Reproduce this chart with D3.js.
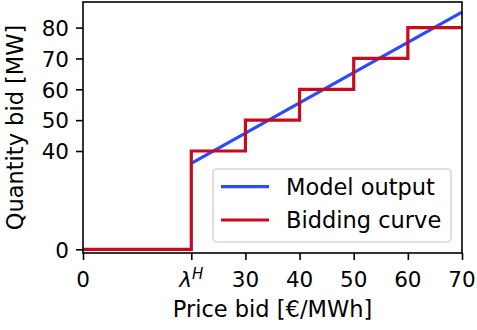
<!DOCTYPE html>
<html>
<head>
<meta charset="utf-8">
<script src="https://cdn.jsdelivr.net/npm/d3@7"></script>
<style>
  body { margin: 0; background: #fff; }
  text { font-family: "DejaVu Sans", sans-serif; fill: #000; }
</style>
</head>
<body>
<script>
// price steps of the bidding curve and the quantity bid from each step on
var bidPrice = [0, 20, 30, 40, 50, 60, 70];
var bidQuantity = [0, 40, 50, 60, 70, 80, 80];

// model output, straight line from lambda^H to the end
var modelPrice = [20, 70];
var modelQuantity = [35, 85];

var xTicks = [0, 20, 30, 40, 50, 60, 70];
var xTickLabels = ["0", "λH", "30", "40", "50", "60", "70"];
var yTicks = [0, 40, 50, 60, 70, 80];

var width = 477, height = 330;
var plotLeft = 83, plotRight = 462, plotTop = 2, plotBottom = 253;

var svg = d3.select("body").append("svg")
    .attr("width", width)
    .attr("height", height);

var x = d3.scaleLinear().domain([0, 70]).range([plotLeft, plotRight]);
// the y axis is squeezed between 0 and 40
var y = d3.scaleLinear().domain([-1.5, 0, 40, 88.3]).range([plotBottom, 249.3, 151, plotTop]);

var blue = "#2a4bff", red = "#c80a1a";

var line = d3.line()
    .x(function(d) { return x(d[0]); })
    .y(function(d) { return y(d[1]); });

svg.append("path")
    .datum(d3.zip(modelPrice, modelQuantity))
    .attr("d", line)
    .attr("fill", "none")
    .attr("stroke", blue)
    .attr("stroke-width", 3.2);

svg.append("path")
    .datum(d3.zip(bidPrice, bidQuantity))
    .attr("d", line.curve(d3.curveStepAfter))
    .attr("fill", "none")
    .attr("stroke", red)
    .attr("stroke-width", 3.2)
    .attr("stroke-linejoin", "miter");

// frame
svg.append("rect")
    .attr("x", plotLeft).attr("y", plotTop)
    .attr("width", plotRight - plotLeft).attr("height", plotBottom - plotTop)
    .attr("fill", "none")
    .attr("stroke", "#000")
    .attr("stroke-width", 1.6);

// x axis
var xAxis = svg.append("g")
    .attr("transform", "translate(0," + plotBottom + ")")
    .call(d3.axisBottom(x).tickValues(xTicks).tickSize(7).tickPadding(7).tickFormat(""));
xAxis.select(".domain").remove();
xAxis.selectAll("line").attr("stroke-width", 1.6);

var xl = svg.append("g").selectAll("text")
    .data(xTicks)
    .enter().append("text")
    .attr("x", function(d) { return x(d); })
    .attr("y", 287)
    .attr("text-anchor", "middle")
    .style("font-size", "21.5px");
xl.each(function(d, i) {
  var t = d3.select(this);
  if (xTickLabels[i] === "λH") {
    t.append("tspan").style("font-style", "italic").text("λ");
    t.append("tspan").style("font-style", "italic").style("font-size", "15px")
      .attr("dy", -8).text("H");
  } else {
    t.text(xTickLabels[i]);
  }
});

// y axis
var yAxis = svg.append("g")
    .attr("transform", "translate(" + plotLeft + ",0)")
    .call(d3.axisLeft(y).tickValues(yTicks).tickSize(7).tickPadding(7));
yAxis.select(".domain").remove();
yAxis.selectAll("line").attr("stroke-width", 1.6);
yAxis.selectAll("text")
    .attr("fill", "#000")
    .style("font-family", "DejaVu Sans, sans-serif")
    .style("font-size", "21.5px")
    .attr("dy", "0.36em");

// axis labels
svg.append("text")
    .attr("x", (plotLeft + plotRight) / 2)
    .attr("y", 317)
    .attr("text-anchor", "middle")
    .style("font-size", "22.5px")
    .text("Price bid [€/MWh]");

svg.append("text")
    .attr("transform", "translate(23," + (plotTop + plotBottom) / 2 + ") rotate(-90)")
    .attr("text-anchor", "middle")
    .style("font-size", "22.5px")
    .text("Quantity bid [MW]");

// legend
var legend = svg.append("g");
legend.append("rect")
    .attr("x", 213).attr("y", 169)
    .attr("width", 238).attr("height", 73)
    .attr("rx", 4)
    .attr("fill", "#fff").attr("fill-opacity", 0.8)
    .attr("stroke", "#d6d6d6").attr("stroke-width", 1.6);

var items = [["Model output", blue], ["Bidding curve", red]];
items.forEach(function(it, i) {
  var yy = 186.7 + i * 33.3;
  legend.append("line")
      .attr("x1", 221).attr("x2", 269)
      .attr("y1", yy).attr("y2", yy)
      .attr("stroke", it[1]).attr("stroke-width", 3.2);
  legend.append("text")
      .attr("x", 286)
      .attr("y", yy + 8)
      .style("font-size", "22.5px")
      .text(it[0]);
});
</script>
</body>
</html>
